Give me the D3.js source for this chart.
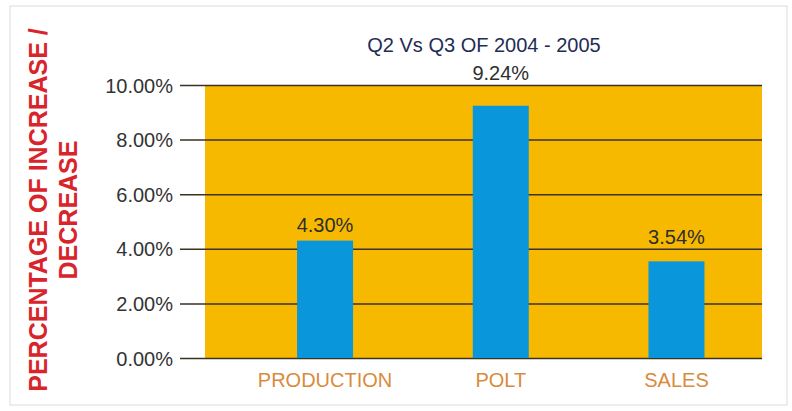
<!DOCTYPE html>
<html>
<head>
<meta charset="utf-8">
<script src="https://cdn.jsdelivr.net/npm/d3@7"></script>
<style>
  body { margin: 0; background: #fff; }
  text { font-family: "Liberation Sans", Arial, sans-serif; }
</style>
</head>
<body>
<div class="chart"></div>
<script>
// values
const categories = ["PRODUCTION", "POLT", "SALES"];
const values = [0.043, 0.0924, 0.0354];
const valueLabels = ["4.30%", "9.24%", "3.54%"];
const yTicks = [0, 0.02, 0.04, 0.06, 0.08, 0.10];

const margin = { top: 85, right: 30, bottom: 53, left: 205 };
const width = 792 - margin.left - margin.right,
  height = 411 - margin.top - margin.bottom;

const root = d3.select(".chart")
  .append("svg")
  .attr("width", 792)
  .attr("height", 411);

// faint frame of the scanned page
root.append("rect")
  .attr("x", 10).attr("y", 6)
  .attr("width", 777).attr("height", 399)
  .attr("fill", "none")
  .attr("stroke", "#dcdcdc");

const svg = root.append("g")
  .attr("transform", "translate(" + margin.left + "," + margin.top + ")");

let xScale = d3.scalePoint()
  .domain(categories)
  .range([0, width])
  .padding(0.585)
  .align(0.584);

let yScale = d3.scaleLinear().domain([0, 0.10]).range([height, 0]);

const barWidth = 56;

// plot area
svg.append("rect")
  .attr("width", width)
  .attr("height", height)
  .attr("fill", "#f6b900");

// y axis + gridlines
const yAxis = d3.axisLeft(yScale)
  .tickValues(yTicks)
  .tickFormat(d3.format(".2%"))
  .tickSize(0);

let y_axis = svg.append("g").attr("class", "y-axis").call(yAxis);
y_axis.select(".domain").remove();
y_axis.selectAll(".tick line")
  .attr("x1", -25)
  .attr("x2", width)
  .attr("stroke", "#3a3222")
  .attr("stroke-width", 1.5);
y_axis.selectAll(".tick text")
  .attr("x", -32)
  .attr("dy", "0.35em")
  .attr("fill", "#333")
  .style("font-size", "20px");

// bars
svg.selectAll(".bar")
  .data(values)
  .enter()
  .append("rect")
  .attr("class", "bar")
  .attr("x", (d, i) => xScale(categories[i]) - barWidth / 2)
  .attr("y", d => yScale(d))
  .attr("width", barWidth)
  .attr("height", d => height - yScale(d))
  .attr("fill", "#0a96da");

// data labels: sit 9px above the bar, but hop above a gridline they would cross
function labelY(v) {
  let base = yScale(v) - 9;
  yTicks.forEach(t => {
    const ty = yScale(t);
    if (ty > base - 15 && ty < base + 2) base = ty - 5;
  });
  return base;
}

svg.selectAll(".val")
  .data(values)
  .enter()
  .append("text")
  .attr("class", "val")
  .attr("x", (d, i) => xScale(categories[i]))
  .attr("y", d => labelY(d))
  .attr("text-anchor", "middle")
  .attr("fill", "#2e2e2e")
  .style("font-size", "20px")
  .text((d, i) => valueLabels[i]);

// category labels
svg.selectAll(".cat")
  .data(categories)
  .enter()
  .append("text")
  .attr("class", "cat")
  .attr("x", d => xScale(d))
  .attr("y", height + 29)
  .attr("text-anchor", "middle")
  .attr("fill", "#d98b3c")
  .style("font-size", "20px")
  .text(d => d);

// title
root.append("text")
  .attr("x", 484)
  .attr("y", 52)
  .attr("text-anchor", "middle")
  .attr("fill", "#1f2d55")
  .style("font-size", "20px")
  .text("Q2 Vs Q3 OF 2004 - 2005");

// y axis title, two lines
const yTitle = root.append("text")
  .attr("transform", "translate(47,210) rotate(-90)")
  .attr("text-anchor", "middle")
  .attr("fill", "#d8242a")
  .style("font-size", "25px")
  .style("font-weight", "bold");
yTitle.append("tspan").attr("x", 0).attr("y", 0).text("PERCENTAGE OF INCREASE /");
yTitle.append("tspan").attr("x", 0).attr("y", 30).text("DECREASE");
</script>
</body>
</html>
